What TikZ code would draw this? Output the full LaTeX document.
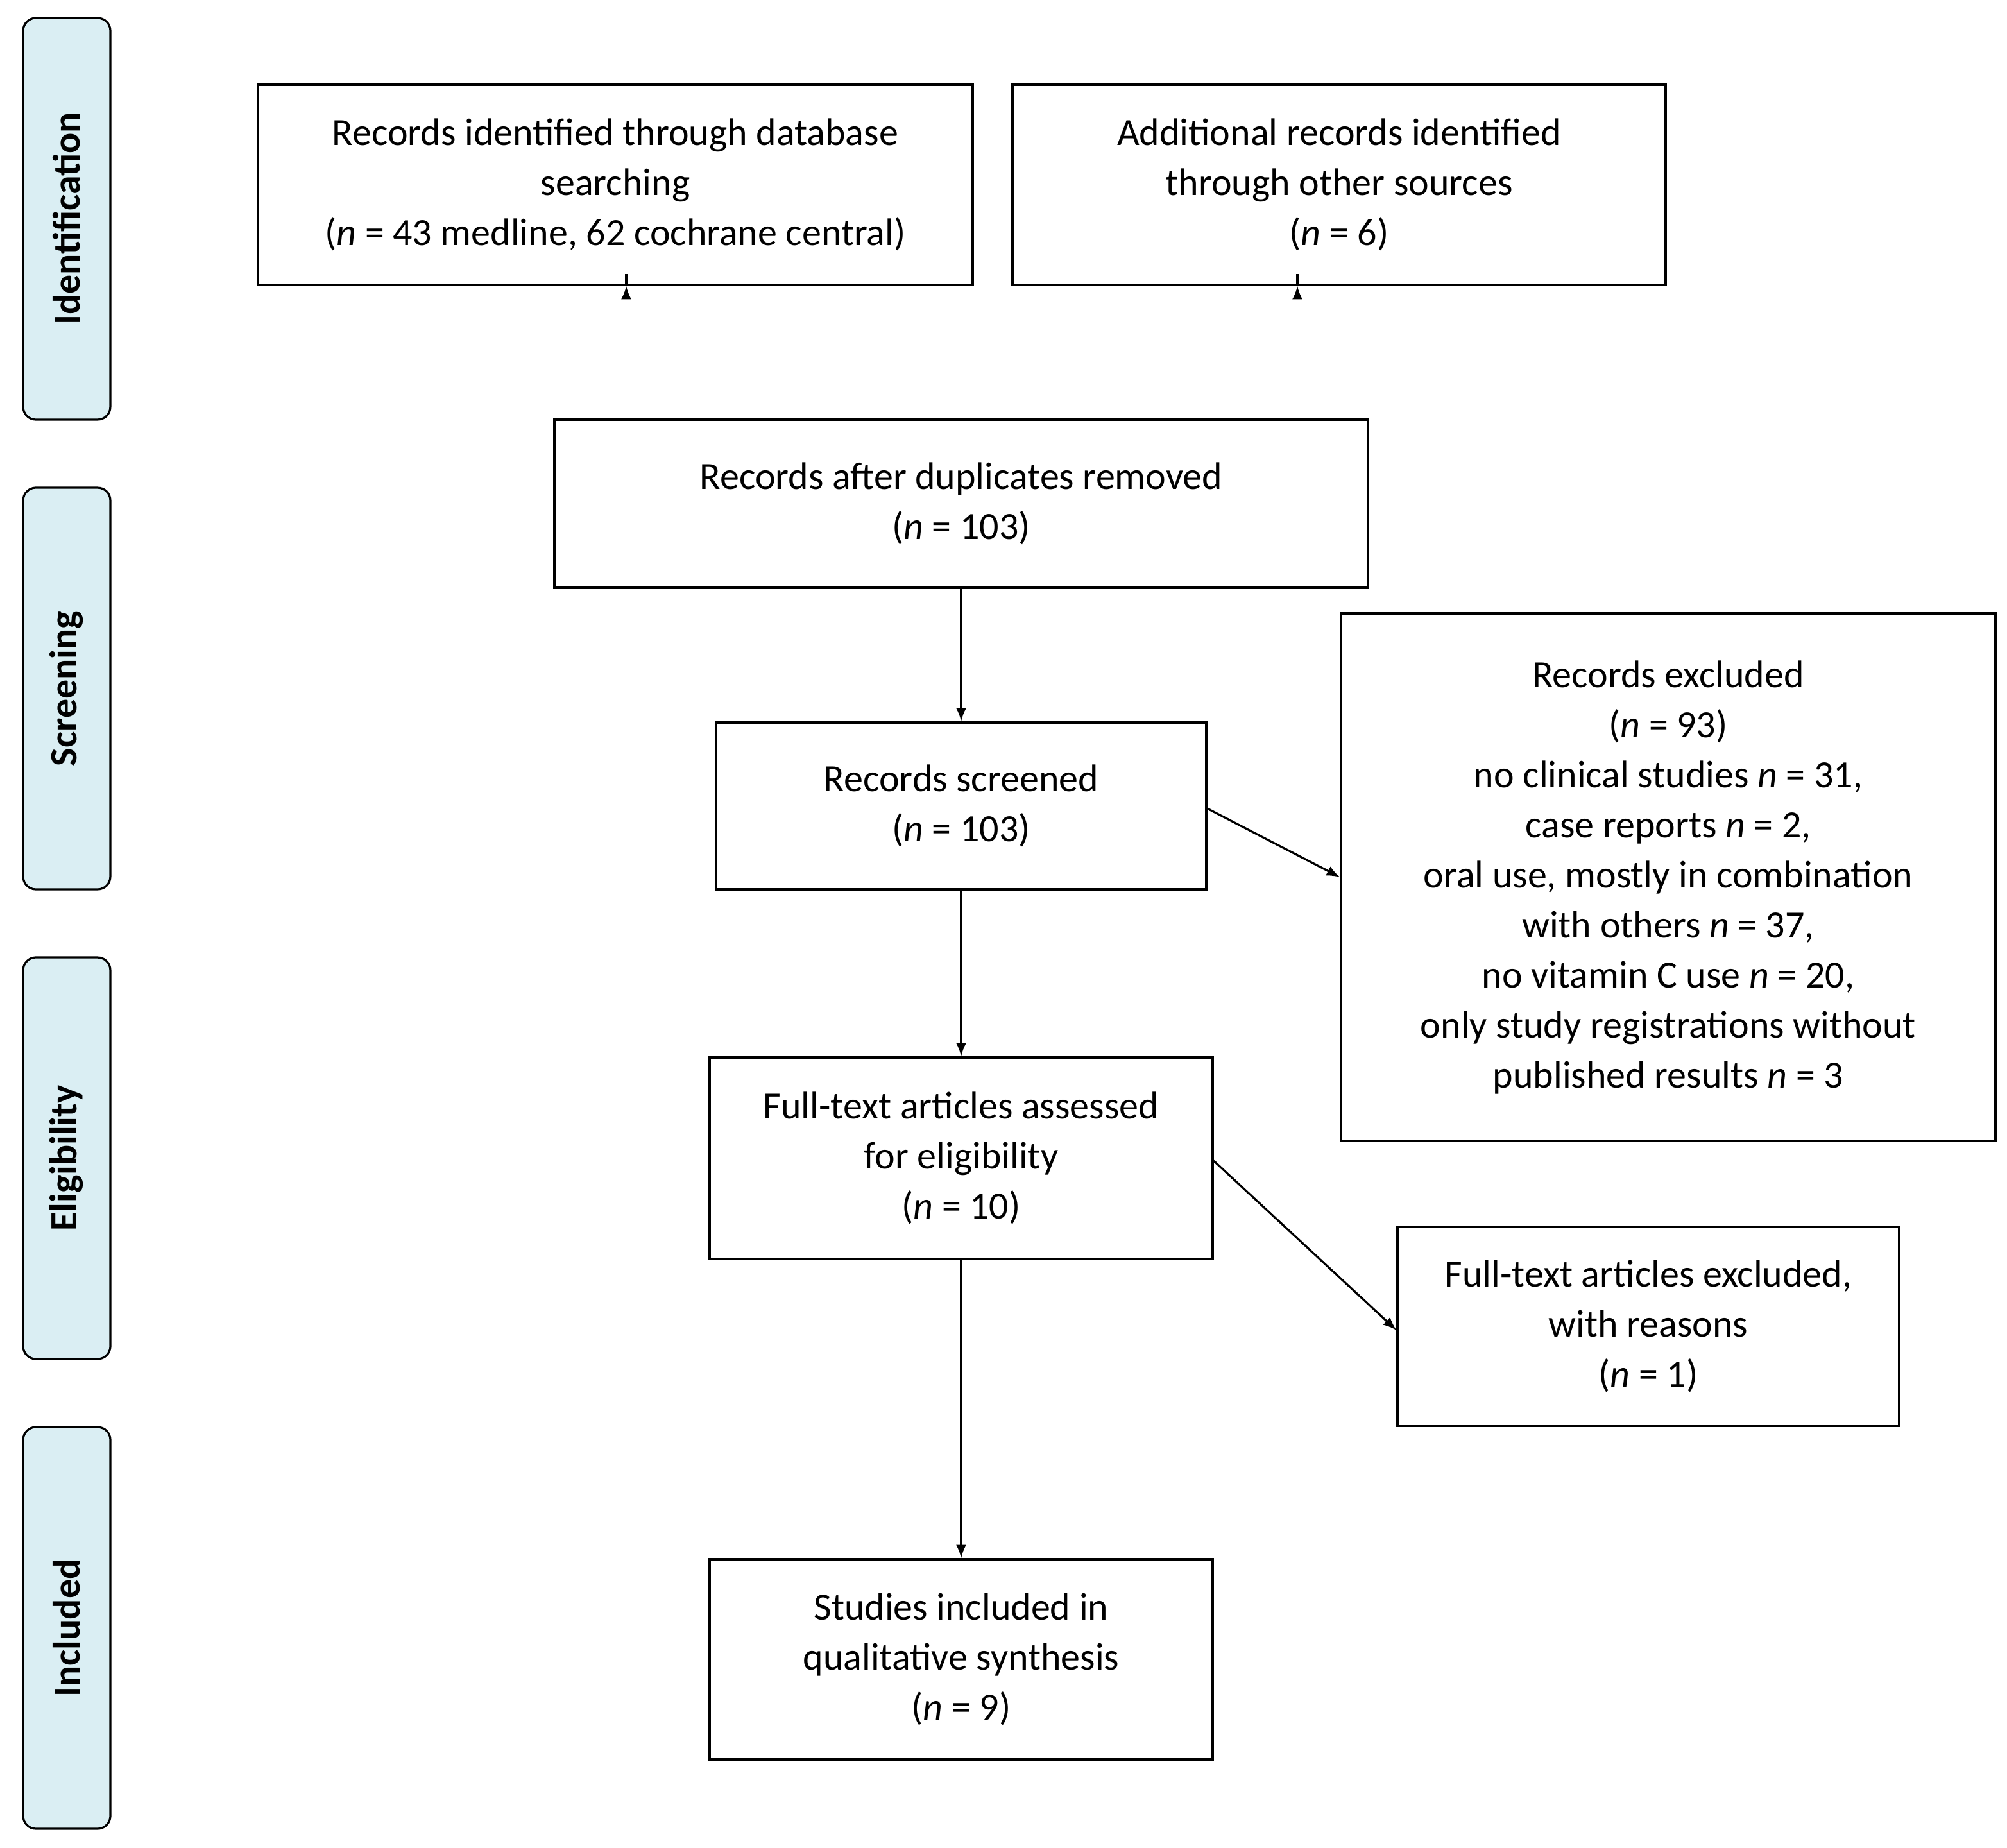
\documentclass[tikz,border=0pt]{standalone}
\usepackage{fontspec}
\setmainfont{Carlito}
\usetikzlibrary{calc, positioning}
\definecolor{phasefill}{HTML}{DAEEF3}
\tikzset{
    boxnode/.style = {draw, rectangle, thick, inner sep = 0em, align=center,
      font=\fontsize{15}{19.5}\selectfont},
    phasenode/.style = {draw, fill=phasefill, rectangle, rounded corners=0.5em, thick,
      minimum width=156.5pt, minimum height=34pt, rotate=90,
      font=\fontsize{15}{18}\selectfont\bfseries},
    connect/.style = {thick, -latex}
}
\begin{document}
\begin{tikzpicture}[x=0.5pt, y=0.5pt]
    \useasboundingbox (0,0) rectangle (1564,-1440);
    % phases
    \node [name=ident, phasenode] at (52,-170.5) {Identification};
    \node [name=screen, phasenode] at (52,-536.5) {Screening};
    \node [name=elig, phasenode] at (52,-902.5) {Eligibility};
    \node [name=incl, phasenode] at (52,-1268.5) {Included};

    \node [name=db, boxnode, minimum width=278.5pt, minimum height=78pt] at (479.5,-144)
      {Records identified through database\\searching\\(\textit{n} = 43 medline, 62 cochrane central)};
    \node [name=other, boxnode, minimum width=254.5pt, minimum height=78pt] at (1043.5,-144)
      {Additional records identified\\through other sources\\(\textit{n} = 6)};
    \node [name=dup, boxnode, minimum width=317pt, minimum height=65.5pt] at (749,-392.5)
      {Records after duplicates removed\\(\textit{n} = 103)};
    \node [name=scr, boxnode, minimum width=191pt, minimum height=65pt] at (749,-628)
      {Records screened\\(\textit{n} = 103)};
    \node [name=excl, boxnode, minimum width=255pt, minimum height=205.5pt] at (1300,-683.5)
      {Records excluded\\(\textit{n} = 93)\\no clinical studies \textit{n} = 31,\\case reports \textit{n} = 2,\\oral use, mostly in combination\\with others \textit{n} = 37,\\no vitamin C use \textit{n} = 20,\\only study registrations without\\published results \textit{n} = 3};
    \node [name=full, boxnode, minimum width=196pt, minimum height=78.5pt] at (749,-902.5)
      {Full-text articles assessed\\for eligibility\\(\textit{n} = 10)};
    \node [name=fexcl, boxnode, minimum width=195.5pt, minimum height=77.5pt] at (1284.5,-1033.5)
      {Full-text articles excluded,\\with reasons\\(\textit{n} = 1)};
    \node [name=study, boxnode, minimum width=196pt, minimum height=78pt] at (749,-1293)
      {Studies included in\\qualitative synthesis\\(\textit{n} = 9)};

    \draw [connect] ($(db.south)+(8.5,0)$) -- ($(db.south)+(8.5,0)$ |- dup.north);
    \draw [connect] ($(other.south)+(-32.5,0)$) -- ($(other.south)+(-32.5,0)$ |- dup.north);
    \draw [connect] (dup) -- (scr);
    \draw [connect] ($(scr.east)+(0,-2)$) -- (excl.west);
    \draw [connect] (scr) -- (full);
    \draw [connect] ($(full.east)+(0,-2)$) -- ($(fexcl.west)+(0,-3)$);
    \draw [connect] (full) -- (study);
\end{tikzpicture}
\end{document}
